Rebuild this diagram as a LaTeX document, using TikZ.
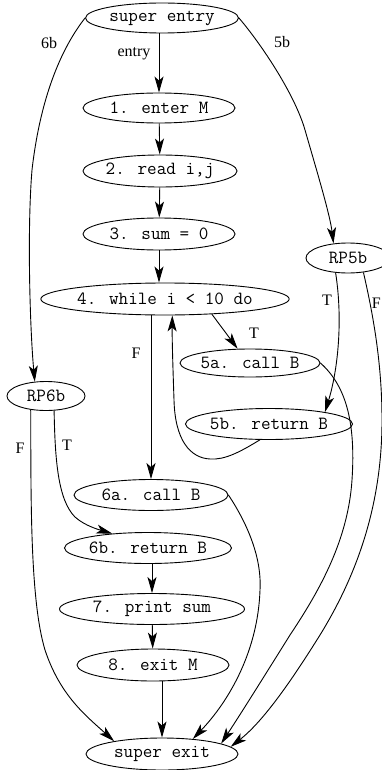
\documentclass[tikz,border=0pt]{standalone}
\usepackage{fontspec}
\setmainfont{Liberation Serif}
\usetikzlibrary{shapes.geometric,arrows.meta}
\begin{document}
\begin{tikzpicture}[x=1pt,y=-1pt,
  st/.style={ellipse,draw,line width=0.9pt,inner sep=0pt,font=\ttfamily\fontsize{18.6}{20}\selectfont},
  arr/.style={line width=0.9pt,-{Stealth[length=16pt,width=9pt,inset=4pt]}},
  lbl/.style={font=\fontsize{16}{18}\selectfont,inner sep=0pt},
  ]
\useasboundingbox (0,0) rectangle (381,770);
% nodes
\node[st,minimum width=153pt,minimum height=30pt] (SE) at (162,18) {super entry};
\node[st,minimum width=152pt,minimum height=30pt] (N1) at (159,108) {1. enter M};
\node[st,minimum width=154pt,minimum height=32pt] (N2) at (160,171) {2. read i,j};
\node[st,minimum width=152pt,minimum height=32pt] (N3) at (159,234) {3. sum = 0};
\node[st,minimum width=84pt,minimum height=30pt] (RP5b) at (348,258) {RP5b};
\node[st,minimum width=223pt,minimum height=32pt] (N4) at (165,299) {4. while i < 10 do};
\node[st,minimum width=140pt,minimum height=28pt] (N5a) at (250,363) {5a. call B};
\node[st,minimum width=78pt,minimum height=29pt] (RP6b) at (46,396) {RP6b};
\node[st,minimum width=152pt,minimum height=31pt] (N5b) at (269,424) {5b. return B};
\node[st,minimum width=154pt,minimum height=31pt] (N6a) at (151,495) {6a. call B};
\node[st,minimum width=152pt,minimum height=31pt] (N6b) at (148,548) {6b. return B};
\node[st,minimum width=185pt,minimum height=31pt] (N7) at (152,609) {7. print sum};
\node[st,minimum width=152pt,minimum height=32pt] (N8) at (153,665) {8. exit M};
\node[st,minimum width=152pt,minimum height=32pt] (SX) at (162,754) {super exit};
% labels
\node[lbl] (Lentry) at (134,54) {entry};
\node[lbl] (L6b) at (49,43) {6b};
\node[lbl] (L5b) at (282,42) {5b};
\node[lbl] (LT4) at (254,333) {T};
\node[lbl] (LF4) at (136,353) {F};
\node[lbl] (LT5) at (327,300) {T};
\node[lbl] (LF5) at (376.3,303) {F};
\node[lbl] (LF6) at (20,448) {F};
\node[lbl] (LT6) at (67,445) {T};
% straight edges
\draw[arr] (SE.south -| N1) -- (N1);
\draw[arr] (N1) -- (N2);
\draw[arr] (N2) -- (N3);
\draw[arr] (N3) -- (N3 |- N4.north);
\draw[arr] (N4.-18) -- (N5a.131);
\draw[arr] (N4.south -| N6a) -- (N6a);
\draw[arr] (N6b.south -| N7) -- (N7);
\draw[arr] (N7) -- (N8);
\draw[arr] (N8.south -| SX) -- (SX);
% curved edges
\draw[arr] (SE.east) .. controls (262,45) and (295,95) .. (305,130)
  .. controls (318,175) and (330,215) .. (RP5b.135);
\draw[arr] (SE.west) .. controls (60,50) and (40,100) .. (32,170)
  .. controls (27,230) and (30,330) .. (RP6b.128);
\draw[arr] (N5b.-120) .. controls (240,452) and (225,460) .. (210,459)
  .. controls (190,458) and (175,440) .. (174,400)
  .. controls (173,370) and (172,340) .. (N4.-66);
\draw[arr] (RP5b.-130) .. controls (343,320) and (338,370) .. (N5b.12);
\draw[arr] (N5a.east) .. controls (345,385) and (356,420) .. (352,480)
  .. controls (348,540) and (320,590) .. (290,635)
  .. controls (265,675) and (240,715) .. (SX.10);
\draw[arr] (RP5b.-43) .. controls (372,310) and (382,360) .. (382,420)
  .. controls (382,500) and (360,570) .. (320,635)
  .. controls (295,675) and (265,720) .. (SX.6);
\draw[arr] (N6a.east) .. controls (245,520) and (262,555) .. (260,590)
  .. controls (258,650) and (230,700) .. (SX.26);
\draw[arr] (RP6b.-138) .. controls (31,500) and (30,600) .. (45,650)
  .. controls (60,695) and (85,715) .. (SX.165);
\draw[arr] (RP6b.-61) .. controls (55,460) and (58,500) .. (75,517)
  .. controls (85,526) and (100,530) .. (N6b.158);
\end{tikzpicture}
\end{document}
